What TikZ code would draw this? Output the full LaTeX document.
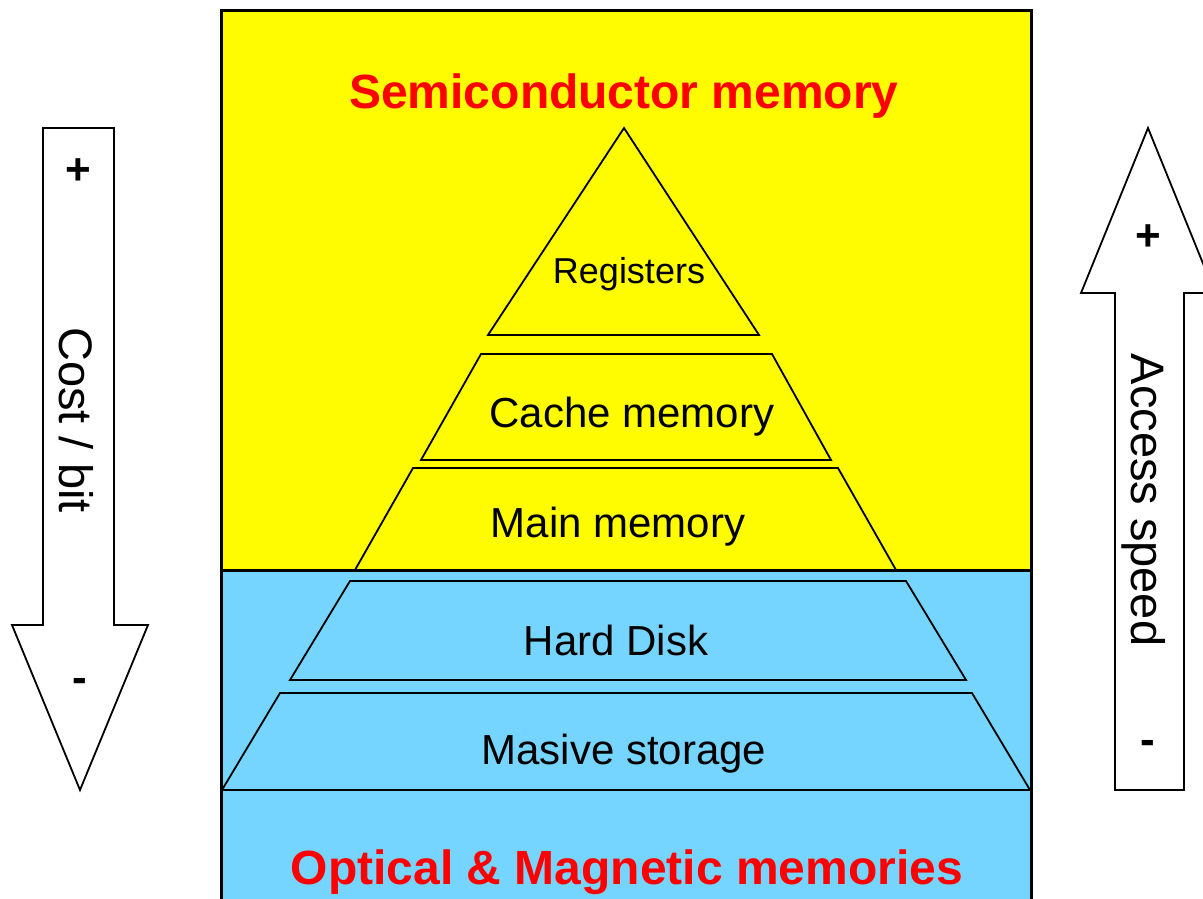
\documentclass[tikz,border=0pt]{standalone}
\usepackage{fontspec}
\setmainfont{Liberation Sans}
\definecolor{semiyellow}{HTML}{FFFB00}
\definecolor{magblue}{HTML}{76D5FE}
\definecolor{titlered}{HTML}{FF0000}
\begin{document}
\begin{tikzpicture}[x=1pt,y=-1pt,
  layer/.style={draw=black,line width=1.8pt,line join=miter},
  frame/.style={draw=black,line width=3pt},
  bigarrow/.style={draw=black,fill=white,line width=1.8pt,line join=miter},
  lbl/.style={font=\fontsize{42}{48}\selectfont,inner sep=0pt,anchor=center},
  title/.style={font=\fontsize{48}{54}\selectfont\bfseries,text=titlered,inner sep=0pt},
  side/.style={font=\fontsize{47}{54}\selectfont,inner sep=0pt,rotate=-90},
  sign/.style={font=\fontsize{44}{50}\selectfont\bfseries,inner sep=0pt}]
\useasboundingbox (0,0) rectangle (1203,899);
% background regions
\fill[semiyellow] (221,11) rectangle (1031,570);
\fill[magblue] (221,570) rectangle (1031,905);
% pyramid layers
\path[layer] (624,128) -- (759,335) -- (488,335) -- cycle;
\path[layer] (481,354) -- (772,354) -- (831,460) -- (421,460) -- cycle;
\path[layer] (413,468) -- (838,468) -- (896,570) -- (355,570);
\path[layer] (838,468) -- (413,468) -- (355,570);
\path[layer] (350,581) -- (906,581) -- (966,680) -- (290,680) -- cycle;
\path[layer] (280,693) -- (972,693) -- (1030,790) -- (222,790) -- cycle;
% frame
\draw[frame] (221,570) -- (1031,570);
\draw[line width=1.8pt] (221,790) -- (1031,790);
\draw[frame] (221,905) -- (221,11) -- (1031,11) -- (1031,905);
% labels
\node[title] (semi) at (624,96) {Semiconductor memory};
\node[title] (opt) at (627,872) {Optical \& Magnetic memories};
\node[lbl,font=\fontsize{36}{42}\selectfont] (reg) at (629,274) {Registers};
\node[lbl] (cache) at (632,417) {Cache memory};
\node[lbl] (main) at (618,527) {Main memory};
\node[lbl] (hd) at (616,640) {Hard Disk};
\node[lbl] (mass) at (624,754) {Masive storage};
% left arrow (cost / bit)
\path[bigarrow] (43,128) -- (114,128) -- (114,625) -- (148,625) -- (80,790) -- (12,625) -- (43,625) -- cycle;
\node[sign] (cplus) at (78,172) {+};
\node[sign] (cminus) at (80,685) {-};
\node[side] (cost) at (76,420) {Cost / bit};
% right arrow (access speed)
\path[bigarrow] (1115,790) -- (1115,293) -- (1081,293) -- (1148,128) -- (1215,293) -- (1184,293) -- (1184,790) -- cycle;
\node[sign] (aplus) at (1148,238) {+};
\node[sign] (aminus) at (1148,747) {-};
\node[side] (acc) at (1144,500) {Access speed};
\end{tikzpicture}
\end{document}
